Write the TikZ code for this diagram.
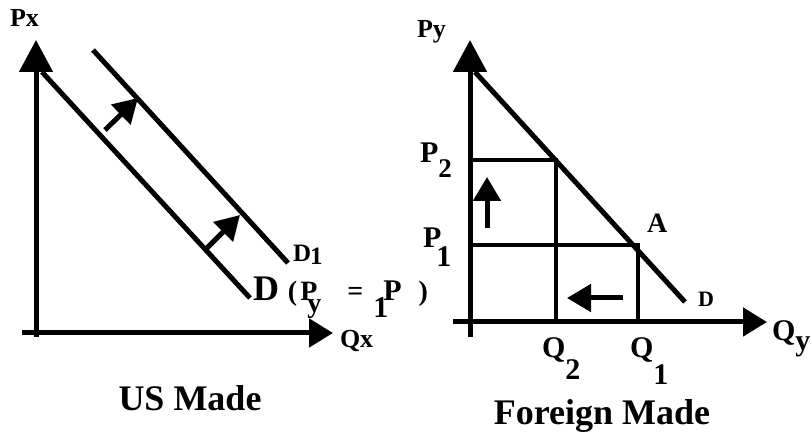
\documentclass[tikz,border=0pt]{standalone}
\usepackage{fontspec}
\setmainfont{Liberation Serif}
\usetikzlibrary{arrows.meta}
\newcommand\fsz[1]{\fontsize{#1}{#1}\selectfont}
\newcommand\lowr[2]{\raisebox{-#1}{#2}}
\tikzset{
  every picture/.style={line width=5pt, font=\bfseries},
  axisv/.style={-{Triangle[length=32pt,width=33pt]}, line width=5pt},
  axish/.style={-{Triangle[length=24pt,width=28pt]}, line width=5pt},
  dem/.style={line width=5pt},
  guide/.style={line width=4.5pt},
  movearrow/.style={-{Triangle[length=24pt,width=27pt]}, line width=5pt},
  lbl/.style={anchor=base west, inner sep=0pt, outer sep=0pt},
}
\begin{document}
\begin{tikzpicture}[x=1pt, y=-1pt]
  \useasboundingbox (0,0) rectangle (812,438);
  % US made: demand for x shifts out
  \coordinate (usBot) at (36,337);  \coordinate (usTop) at (36,40);
  \coordinate (usLeft) at (22,333); \coordinate (usRight) at (333,333);
  \coordinate (dA) at (42,72);   \coordinate (dB) at (250,298);
  \coordinate (dnA) at (93,50);  \coordinate (dnB) at (288,263);
  \coordinate (upA) at (105,130); \coordinate (upA') at (138,98);
  \coordinate (upB) at (207,248); \coordinate (upB') at (240,215);
  \draw[axisv] (usBot) -- (usTop);
  \draw[axish] (usLeft) -- (usRight);
  \draw[dem] (dA) -- (dB);
  \draw[dem] (dnA) -- (dnB);
  \draw[movearrow] (upA) -- (upA');
  \draw[movearrow] (upB) -- (upB');
  \node[lbl, font=\bfseries\fsz{26}] (px) at (10,27) {Px};
  \node[lbl, font=\bfseries\fsz{26}] (qx) at (340,348) {Qx};
  \node[lbl, font=\bfseries\fsz{25}] (dnlbl) at (293,262) {D\hspace{-1pt}\lowr{3pt}{1}};
  \node[lbl, font=\bfseries\fsz{28}] (dlbl) at (253,301)
    {{\fsz{36}D}\hspace{9pt}(\hspace{3pt}P\hspace{-10pt}\lowr{12pt}{y}\hspace{26pt}=\hspace{10pt}\lowr{17pt}{\fsz{30}1}\hspace{-5pt}{\fsz{30}P}\hspace{17pt})};
  \node[font=\bfseries\fsz{36}] (us) at (190,398) {US Made};
  % foreign made: price of y rises, quantity falls along D
  \coordinate (fBot) at (470,337);  \coordinate (fTop) at (470,40);
  \coordinate (fLeft) at (453,322); \coordinate (fRight) at (767,322);
  \coordinate (fdA) at (475,72);  \coordinate (fdB) at (685,302);
  \coordinate (p2) at (470,160);  \coordinate (b) at (556,160);
  \coordinate (p1) at (470,245);  \coordinate (a) at (638,245);
  \coordinate (q2) at (556,322);  \coordinate (q1) at (638,322);
  \coordinate (riseA) at (487,228); \coordinate (riseB) at (487,177);
  \coordinate (fallA) at (623,298); \coordinate (fallB) at (567,298);
  \draw[axisv] (fBot) -- (fTop);
  \draw[axish] (fLeft) -- (fRight);
  \draw[dem] (fdA) -- (fdB);
  \draw[guide] (p2) -- (b) -- (q2);
  \draw[guide] (p1) -- (a) -- (q1);
  \draw[movearrow] (riseA) -- (riseB);
  \draw[movearrow] (fallA) -- (fallB);
  \node[lbl, font=\bfseries\fsz{26}] (py) at (417,38) {Py};
  \node[lbl, font=\bfseries\fsz{30}] (p2lbl) at (420,163) {P\lowr{15pt}{\fsz{27}2}};
  \node[lbl, font=\bfseries\fsz{30}] (p1lbl) at (423,248) {P\hspace{-5pt}\lowr{19pt}{1}};
  \node[lbl, font=\bfseries\fsz{28}] (albl) at (647,233) {A};
  \node[lbl, font=\bfseries\fsz{22}] (fdlbl) at (698,307) {D};
  \node[lbl, font=\bfseries\fsz{30}] (qy) at (772,341) {Q\lowr{10pt}{y}};
  \node[lbl, font=\bfseries\fsz{30}] (q2lbl) at (542,358) {Q\lowr{22pt}{2}};
  \node[lbl, font=\bfseries\fsz{30}] (q1lbl) at (630,358) {Q\lowr{27pt}{1}};
  \node[font=\bfseries\fsz{36}] (fm) at (602,416) {Foreign Made};
\end{tikzpicture}
\end{document}
